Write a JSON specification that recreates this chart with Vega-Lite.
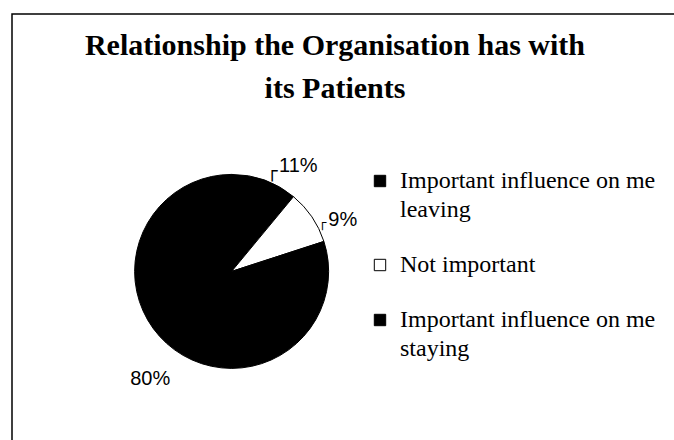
{
  "$schema": "https://vega.github.io/schema/vega-lite/v6.json",
  "width": 680,
  "height": 440,
  "autosize": {"type": "none"},
  "padding": {"left": 12, "top": 14, "right": 0, "bottom": 0},
  "background": "white",
  "config": {"view": {"stroke": "black", "strokeWidth": 1.5}},
  "title": {
    "text": ["Relationship the Organisation has with", "its Patients"],
    "font": "Liberation Serif",
    "fontSize": 30,
    "fontWeight": "bold",
    "color": "black",
    "lineHeight": 43,
    "anchor": "middle",
    "dx": -17,
    "offset": -90
  },
  "data": {
    "values": [
      {"category": "Important influence on me leaving", "value": 11, "label": "11%", "order": 1},
      {"category": "Not important", "value": 9, "label": "9%", "order": 2},
      {"category": "Important influence on me staying", "value": 80, "label": "80%", "order": 3}
    ]
  },
  "encoding": {
    "theta": {"field": "value", "type": "quantitative", "stack": true},
    "order": {"field": "order", "type": "quantitative"},
    "x": {"datum": 0.323, "type": "quantitative", "scale": {"domain": [0, 1]}, "axis": null},
    "y": {"datum": 0.585, "type": "quantitative", "scale": {"domain": [0, 1], "reverse": true}, "axis": null}
  },
  "layer": [
    {
      "mark": {"type": "arc", "outerRadius": 97, "stroke": "black", "strokeWidth": 1},
      "encoding": {
        "color": {
          "field": "category",
          "type": "nominal",
          "sort": ["Important influence on me leaving", "Not important", "Important influence on me staying"],
          "scale": {
            "domain": ["Important influence on me leaving", "Not important", "Important influence on me staying"],
            "range": ["black", "white", "black"]
          },
          "legend": {
            "orient": "none",
            "legendX": 356,
            "legendY": 155,
            "title": null,
            "symbolType": "square",
            "symbolSize": 130,
            "symbolStrokeColor": "black",
            "symbolStrokeWidth": 1,
            "labelFont": "Liberation Serif",
            "labelFontSize": 24,
            "labelColor": "black",
            "labelLimit": 0,
            "labelOffset": 8,
            "rowPadding": 31,
            "labelExpr": "split(replace(datum.label, ' on me ', ' on me|'), '|')",
            "encode": {"labels": {"update": {"lineHeight": {"value": 29}}}}
          }
        }
      }
    },
    {
      "mark": {"type": "text", "radius": 120, "dx": 26, "dy": 8, "font": "Liberation Sans", "fontSize": 20, "color": "black"},
      "encoding": {
        "text": {"condition": {"test": "datum.category == 'Important influence on me leaving'", "field": "label"}, "value": ""}
      }
    },
    {
      "mark": {"type": "text", "radius": 120, "dx": 0, "dy": 14, "font": "DejaVu Sans", "fontSize": 18, "color": "black"},
      "encoding": {
        "text": {"condition": {"test": "datum.category == 'Important influence on me leaving'", "value": "┌"}, "value": ""}
      }
    },
    {
      "mark": {"type": "text", "radius": 115, "dx": 16, "dy": 13, "font": "Liberation Sans", "fontSize": 20, "color": "black"},
      "encoding": {
        "text": {"condition": {"test": "datum.category == 'Not important'", "field": "label"}, "value": ""}
      }
    },
    {
      "mark": {"type": "text", "radius": 115, "dx": -4, "dy": 16, "font": "DejaVu Sans", "fontSize": 13, "color": "black"},
      "encoding": {
        "text": {"condition": {"test": "datum.category == 'Not important'", "value": "┌"}, "value": ""}
      }
    },
    {
      "mark": {"type": "text", "radius": 130, "dx": -5, "dy": 2, "font": "Liberation Sans", "fontSize": 20, "color": "black"},
      "encoding": {
        "text": {"condition": {"test": "datum.category == 'Important influence on me staying'", "field": "label"}, "value": ""}
      }
    }
  ]
}
